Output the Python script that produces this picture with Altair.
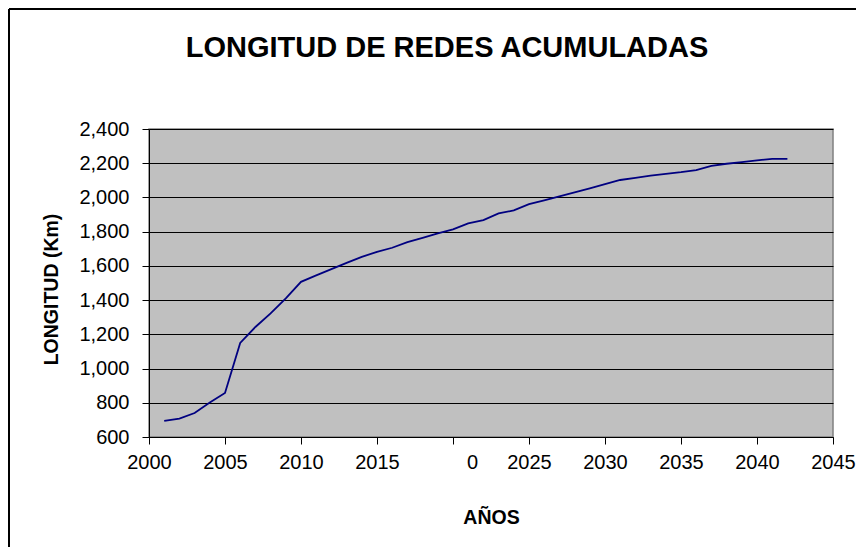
import altair as alt
import pandas as pd

years = [2001, 2002, 2003, 2004, 2005, 2006, 2007, 2008, 2009, 2010,
         2011, 2012, 2013, 2014, 2015, 2016, 2017, 2018, 2019, 2020,
         2021, 2022, 2023, 2024, 2025, 2026, 2027, 2028, 2029, 2030,
         2031, 2032, 2033, 2034, 2035, 2036, 2037, 2038, 2039, 2040,
         2041, 2042]
longitud = [694, 708, 740, 801, 857, 1150, 1243, 1322, 1410, 1507,
            1545, 1581, 1618, 1653, 1682, 1706, 1739, 1764, 1790, 1813,
            1848, 1868, 1907, 1924, 1961, 1983, 2006, 2030, 2053, 2078,
            2102, 2115, 2127, 2138, 2148, 2160, 2185, 2197, 2207, 2217,
            2225, 2225]
x_ticks = [2000, 2005, 2010, 2015, 2020, 2025, 2030, 2035, 2040, 2045]
y_ticks = [600, 800, 1000, 1200, 1400, 1600, 1800, 2000, 2200, 2400]

df = pd.DataFrame({"Año": years, "Longitud": longitud})

FONT = "Liberation Sans"

line = alt.Chart(df).mark_line(color="#000080", strokeWidth=1.8).encode(
    x=alt.X(
        "Año:Q",
        scale=alt.Scale(domain=[2000, 2045], nice=False, zero=False),
        axis=alt.Axis(
            values=x_ticks,
            format="d",
            labelExpr="datum.value == 2020 ? '0' : datum.label",
            labelOffset={"condition": {"test": "datum.value == 2020", "value": 19}, "value": 0},
            title="AÑOS",
            grid=False,
            labelPadding=8,
            labelFlush=False,
            labelOverlap=False,
            titleX=342,
            titleY=80,
            titleAlign="center",
            titleBaseline="middle",
        ),
    ),
    y=alt.Y(
        "Longitud:Q",
        scale=alt.Scale(domain=[600, 2400], nice=False, zero=False),
        axis=alt.Axis(
            values=y_ticks,
            format=",d",
            title="LONGITUD (Km)",
            grid=True,
            gridColor="black",
            gridWidth=1,
            gridOpacity=1,
            labelPadding=13,
            labelFlush=False,
            labelOverlap=False,
            titleX=-98,
            titleY=160,
            titleAlign="center",
            titleBaseline="middle",
        ),
    ),
)

frame_df = pd.DataFrame({"k": [0]})
border_left = alt.Chart(frame_df).mark_rule(color="black", strokeWidth=2).encode(
    x=alt.value(-140), y=alt.value(-120), y2=alt.value(420)
)
border_top = alt.Chart(frame_df).mark_rule(color="black", strokeWidth=2).encode(
    x=alt.value(-140), x2=alt.value(720), y=alt.value(-120)
)

chart = (
    alt.layer(line, border_left, border_top)
    .properties(
        width=684,
        height=308,
        autosize=alt.AutoSizeParams(type="none"),
        padding={"left": 141, "top": 121, "right": 23, "bottom": 110},
        title=alt.TitleParams(
            "LONGITUD DE REDES ACUMULADAS",
            font=FONT,
            fontSize=29,
            fontWeight="bold",
            color="black",
            anchor="middle",
            frame="group",
            baseline="alphabetic",
            dx=-44,
            dy=78,
            offset=0,
        ),
    )
    .configure_view(fill="#C0C0C0", stroke="#808080", strokeWidth=1.5)
    .configure_axis(
        domainColor="black",
        domainWidth=1,
        tickColor="black",
        tickSize=7,
        tickWidth=1,
        labelFont=FONT,
        labelFontSize=20,
        labelColor="black",
        titleFont=FONT,
        titleFontSize=19.5,
        titleFontWeight="bold",
        titleColor="black",
    )
)

chart.save("out.html", embed_options={"renderer": "svg", "actions": False})
